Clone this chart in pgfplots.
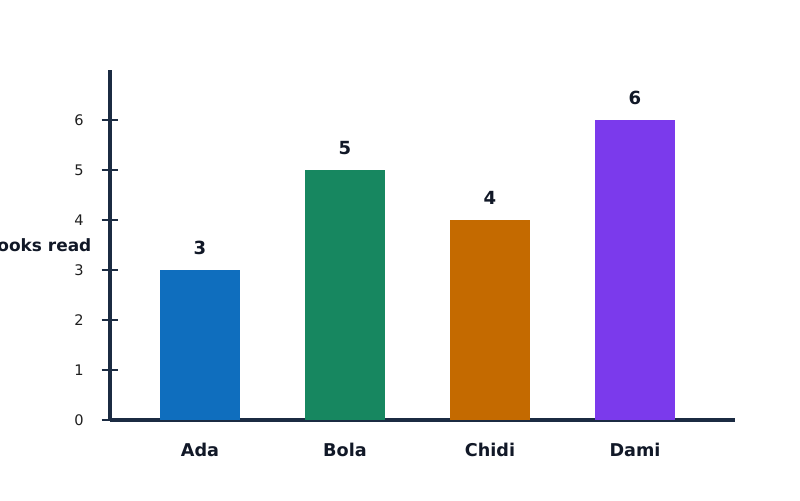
\documentclass[border=0pt]{standalone}
\usepackage{pgfplots}
\pgfplotsset{compat=1.18}
\usepackage{fontspec}
\setmainfont{DejaVu Sans}
\definecolor{cAda}{HTML}{0F6EBE}
\definecolor{cBola}{HTML}{178760}
\definecolor{cChidi}{HTML}{C46A00}
\definecolor{cDami}{HTML}{7B3AEC}
\definecolor{spine}{HTML}{1B2B42}
\definecolor{txt}{HTML}{111827}
\definecolor{ticktxt}{HTML}{1F1F1F}
\begin{document}
\begin{tikzpicture}
\useasboundingbox (-79.2pt,-57.6pt) rectangle (496.8pt,302.4pt);
\clip (-79.2pt,-57.6pt) rectangle (496.8pt,302.4pt);
\begin{axis}[
  scale only axis,
  width=450pt, height=252pt,
  xmin=-0.6207, xmax=3.6897,
  ymin=0, ymax=7,
  axis x line*=bottom, axis y line*=left,
  axis line style={spine, line width=2.3pt},
  ybar, bar width=57.6pt, bar shift=0pt,
  xtick={0,1,2,3},
  xticklabels={Ada,Bola,Chidi,Dami},
  ytick={0,1,2,3,4,5,6},
  tick align=center,
  major tick length=12pt,
  xtick style={draw=none},
  ytick style={spine, line width=1.5pt},
  /pgf/number format/assume math mode=true,
  yticklabel style={font=\fontsize{10.5pt}{12pt}\selectfont, color=ticktxt, inner sep=0pt, anchor=east, xshift=-12.8pt},
  xticklabel style={font=\bfseries\fontsize{12.7pt}{15pt}\selectfont, color=txt, inner sep=0pt, anchor=base, yshift=-20pt},
  ylabel={Books read},
  ylabel style={rotate=-90, at={(rel axis cs:0,0.5)}, anchor=east, inner sep=0pt, xshift=-13.2pt, font=\bfseries\fontsize{12.2pt}{14pt}\selectfont, color=txt},
  nodes near coords,
  nodes near coords style={font=\bfseries\fontsize{13pt}{15pt}\selectfont, color=txt, anchor=south, inner sep=0pt, yshift=10.8pt},
  clip=false,
]
\addplot[fill=cAda, draw=none] coordinates {(0,3)};
\addplot[fill=cBola, draw=none] coordinates {(1,5)};
\addplot[fill=cChidi, draw=none] coordinates {(2,4)};
\addplot[fill=cDami, draw=none] coordinates {(3,6)};
\end{axis}
\end{tikzpicture}
\end{document}
